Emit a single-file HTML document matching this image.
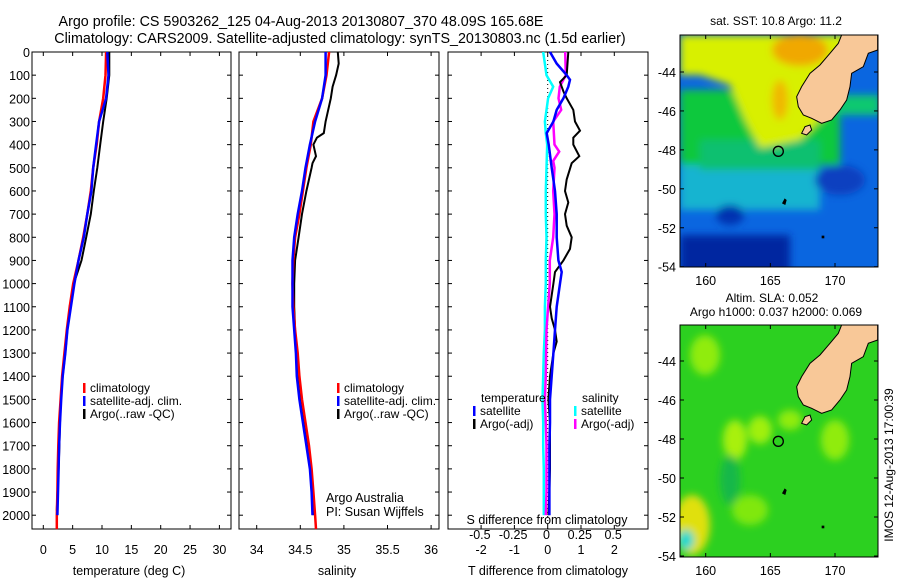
<!DOCTYPE html>
<html><head><meta charset="utf-8"><style>
body{margin:0;background:#fff;}
svg{display:block;font-family:"Liberation Sans",sans-serif;}
</style></head><body>
<svg id="c" width="900" height="580" viewBox="0 0 900 580" xmlns="http://www.w3.org/2000/svg">
<defs>
<clipPath id="m1"><rect x="680" y="35" width="198" height="232"/></clipPath>
<clipPath id="m2"><rect x="680" y="325" width="198" height="232"/></clipPath>
<filter id="bl"><feGaussianBlur stdDeviation="4"/></filter>
</defs>
<text x="301" y="26" font-size="14.3" text-anchor="middle">Argo profile: CS 5903262_125 04-Aug-2013 20130807_370 48.09S 165.68E</text>
<text x="340" y="43" font-size="14.3" text-anchor="middle">Climatology: CARS2009. Satellite-adjusted climatology: synTS_20130803.nc (1.5d earlier)</text>

<g>
<text x="776" y="25" font-size="12" text-anchor="middle">sat. SST: 10.8 Argo: 11.2</text>
<g clip-path="url(#m1)">
<rect x="680" y="35" width="198" height="232" fill="#0a66e0"/>
<g filter="url(#bl)">
<rect x="680" y="150" width="140" height="60" fill="#18b4d0"/>
<rect x="680" y="90" width="160" height="75" fill="#08c83c"/>
<rect x="700" y="140" width="120" height="30" fill="#10c070"/>
<polygon points="680,35 860,35 830,110 800,140 760,148 745,120 730,85 700,75 680,75" fill="#d8f000"/>
<ellipse cx="800" cy="50" rx="28" ry="16" fill="#f0a800"/>
<ellipse cx="780" cy="100" rx="8" ry="20" fill="#f0b800"/>
<rect x="680" y="235" width="110" height="40" fill="#0028a0"/>
<ellipse cx="730" cy="215" rx="14" ry="10" fill="#0030b0"/>
<ellipse cx="840" cy="180" rx="25" ry="15" fill="#0840c0"/>
<rect x="820" y="95" width="60" height="20" fill="#10c870"/>
</g>
</g>
<g transform="translate(650,0) scale(0.3333)">
<polygon points="575,105 683,105 683,150 655,160 640,200 605,220 600,260 590,300 570,330 545,360 515,370 485,355 460,345 445,320 440,290 455,260 480,220 510,195 540,160 565,130" fill="#f8c898" stroke="#000" stroke-width="3"/>
<polygon points="455,400 465,380 480,375 485,390 470,405" fill="#f8c898" stroke="#000" stroke-width="3"/>
<polygon points="396,610 404,595 410,600 406,615" fill="#000"/>
<rect x="515" y="707" width="8" height="8" fill="#000"/>
<circle cx="385" cy="454" r="15" fill="none" stroke="#000" stroke-width="4"/>
</g>
<rect x="680" y="35" width="198" height="232" fill="none" stroke="#000"/>
</g>

<g>
<text x="772" y="302" font-size="12" text-anchor="middle">Altim. SLA: 0.052</text>
<text x="776" y="316" font-size="12" text-anchor="middle">Argo h1000: 0.037 h2000: 0.069</text>
<g clip-path="url(#m2)">
<rect x="680" y="325" width="198" height="232" fill="#2cd020"/>
<g filter="url(#bl)">
<ellipse cx="705" cy="355" rx="15" ry="20" fill="#90ec10"/>
<ellipse cx="735" cy="440" rx="12" ry="20" fill="#a8f010"/>
<ellipse cx="760" cy="430" rx="12" ry="14" fill="#a0f010"/>
<ellipse cx="835" cy="440" rx="14" ry="20" fill="#90ec10"/>
<ellipse cx="790" cy="420" rx="12" ry="10" fill="#90ec10"/>
<ellipse cx="750" cy="510" rx="18" ry="15" fill="#80e810"/>
<ellipse cx="730" cy="480" rx="10" ry="25" fill="#18b848"/>
<ellipse cx="692" cy="525" rx="18" ry="30" fill="#e0e010"/>
<ellipse cx="686" cy="540" rx="8" ry="10" fill="#10d8d0"/>
</g>
</g>
<g transform="translate(650,290) scale(0.3333)">
<polygon points="575,105 683,105 683,150 655,160 640,200 605,220 600,260 590,300 570,330 545,360 515,370 485,355 460,345 445,320 440,290 455,260 480,220 510,195 540,160 565,130" fill="#f8c898" stroke="#000" stroke-width="3"/>
<polygon points="455,400 465,380 480,375 485,390 470,405" fill="#f8c898" stroke="#000" stroke-width="3"/>
<polygon points="396,610 404,595 410,600 406,615" fill="#000"/>
<rect x="515" y="707" width="8" height="8" fill="#000"/>
<circle cx="385" cy="454" r="15" fill="none" stroke="#000" stroke-width="4"/>
</g>
<rect x="680" y="325" width="198" height="232" fill="none" stroke="#000"/>
</g>
<text transform="translate(893,465) rotate(-90)" font-size="12" text-anchor="middle">IMOS 12-Aug-2013 17:00:39</text>

<g id="plots"></g>
</svg>
<script>
// ---- data ----
const depthsT = [0,100,200,300,400,500,600,700,800,900,1000,1100,1200,1300,1400,1500,1600,1700,1800,1900,2000,2060];
const tempClim = [10.7,10.6,10.2,9.5,9.1,8.5,8.1,7.5,6.8,6.0,5.1,4.5,4.0,3.6,3.2,2.95,2.7,2.55,2.45,2.4,2.3,2.3];
const depthsTs = [0,100,200,300,400,500,600,700,800,900,1000,1100,1200,1300,1400,1500,1600,1700,1800,1900,2000];
const tempSat = [10.9,11.1,10.7,9.5,9.0,8.5,8.2,7.5,6.9,6.0,5.3,4.7,4.1,3.75,3.3,3.05,2.85,2.7,2.6,2.5,2.4];
const depthsTa = [0,100,200,300,400,500,600,700,800,900,1000,1100,1200,1300,1400,1500,1600,1700,1800,1900,1980];
const tempArgo = [11.25,11.25,10.8,10.2,9.7,9.2,8.6,8.1,7.3,6.5,5.2,4.5,4.1,3.75,3.3,3.0,2.85,2.75,2.6,2.4,2.3];
const depthsS = [0,100,200,300,400,500,600,700,800,900,1000,1100,1200,1300,1400,1500,1600,1700,1800,1900,2000,2060];
const salClim = [34.83,34.8,34.75,34.65,34.62,34.57,34.53,34.49,34.44,34.42,34.41,34.42,34.44,34.47,34.49,34.52,34.56,34.6,34.63,34.65,34.67,34.68];
const depthsSs = [0,100,200,300,400,500,600,700,800,900,1000,1100,1200,1300,1400,1500,1600,1700,1800,1900,2000];
const salSat = [34.79,34.79,34.75,34.67,34.61,34.56,34.52,34.47,34.43,34.41,34.41,34.41,34.43,34.45,34.46,34.49,34.53,34.57,34.61,34.63,34.64];
const depthsSa = [0,50,100,150,200,300,350,370,400,450,480,500,550,600,700,800,900,1000,1100,1200,1300,1400,1500,1600,1700,1800,1900,2000];
const salArgo = [34.93,34.94,34.91,34.87,34.85,34.79,34.77,34.69,34.65,34.68,34.64,34.63,34.6,34.57,34.52,34.48,34.44,34.43,34.43,34.44,34.46,34.47,34.5,34.55,34.58,34.62,34.64,34.65];
const depthsDT = [0,50,100,120,150,200,250,300,350,400,500,600,700,800,900,950,1000,1100,1200,1300,1400,1500,1600,1700,1800,1900,2000];
const dTsat = [0.07,0.27,0.57,0.67,0.62,0.47,0.27,0.17,-0.03,0.03,0.12,0.22,0.27,0.27,0.32,0.42,0.37,0.27,0.22,0.17,0.12,0.07,0.07,0.05,0.05,0.05,0.05];
const depthsDTa = [0,100,130,170,200,250,300,340,370,400,450,480,550,600,650,700,750,800,850,900,950,1000,1100,1150,1200,1250,1300,1400,1500,1600,1700,1800,1900,2000];
const dTargo = [0.62,0.57,0.37,0.47,0.57,0.77,0.82,0.97,0.77,0.77,0.95,0.72,0.57,0.52,0.62,0.52,0.57,0.72,0.67,0.47,0.22,0.17,0.07,0.12,0.22,0.27,0.17,0.07,0.02,0.07,0.07,0.07,0.05,0.02];
const depthsDS = [0,100,150,200,300,350,400,500,600,700,800,900,1000,1100,1200,1300,1400,1500,1600,1700,1800,1900,2000];
const dSsat = [-0.025,0,0.05,0.012,-0.012,-0.005,0.005,0,-0.005,-0.005,0,-0.005,-0.005,-0.012,-0.012,-0.02,-0.025,-0.03,-0.025,-0.025,-0.02,-0.02,-0.02];
const depthsDSa = [0,100,150,200,250,300,400,430,470,500,600,700,800,900,1000,1100,1200,1400,1500,1600,1700,1800,1900,2000];
const dSargo = [0.14,0.145,0.1,0.09,0.11,0.05,0.06,0.095,0.05,0.06,0.05,0.06,0.05,0.025,0.025,0.012,0,-0.005,-0.012,-0.005,0,0,0,-0.005];
const depthTicks = [0,100,200,300,400,500,600,700,800,900,1000,1100,1200,1300,1400,1500,1600,1700,1800,1900,2000];
const tempTicks = [0,5,10,15,20,25,30];
const salTicks = [34,34.5,35,35.5,36];
const salTickLabels = ["34","34.5","35","35.5","36"];
const dTTicks = [-2,-1,0,1,2];
const dSTicks = [-0.5,-0.25,0,0.25,0.5];
const dSTickLabels = ["-0.5","-0.25","0","0.25","0.5"];
const latTicks = [-44,-46,-48,-50,-52,-54];
const lonTicks = [160,165,170];

// ---- scales ----
const Y0=52, Y1=529;
const yD = d => 52 + d*0.2316;
const xT = t => 43.3 + t*5.87;
const xS = s => 256.7 + (s-34)*87.2;
const xDT = v => 547.7 + v*33.3;
const xDS = v => 546.5 + v*133.3;
const lonX = l => 705.7 + (l-160)*12.93;
const latY1 = l => 72 + (-44-l)*19.47;
const latY2 = l => 361 + (-44-l)*19.5;

const NS="http://www.w3.org/2000/svg";
const root=document.getElementById('plots');
function mk(tag, attrs, parent){const e=document.createElementNS(NS,tag);for(const k in attrs)e.setAttribute(k,attrs[k]);(parent||root).appendChild(e);return e;}
function txt(s,x,y,anchor,size,parent){const e=mk('text',{x:x,y:y,'text-anchor':anchor,'font-size':size},parent);e.textContent=s;return e;}

function panel(name,x0,x1){
  const g=mk('g',{});
  
  
  const r=mk('rect',{x:x0,y:Y0,width:x1-x0,height:Y1-Y0,fill:'none',stroke:'#000'},g);
  
  
  depthTicks.forEach(d=>{
    mk('line',{x1:x0,x2:x0+4,y1:yD(d),y2:yD(d),stroke:'#000'},g);
    mk('line',{x1:x1,x2:x1-4,y1:yD(d),y2:yD(d),stroke:'#000'},g);
  });
  return g;
}
function line(g,xs,ds,xf,color,w,name){
  const p=mk('polyline',{points:xs.map((v,i)=>xf(v).toFixed(1)+','+yD(ds[i]).toFixed(1)).join(' '),fill:'none',stroke:color,'stroke-width':w},g);
  
  
}
function legend(g,x,y,items){
  items.forEach((it,i)=>{
    mk('rect',{x:x,y:y+i*13-9,width:2.5,height:10,fill:it[1]},g);
    const t=txt(it[0],x+7,y+i*13,'start',12,g);
    
    
  });
}

// Panel 1
const g1=panel('temperature-panel',32,231);
depthTicks.forEach(d=>{const t=txt(String(d),30,yD(d)+5,'end',12.5,g1);

});
tempTicks.forEach(v=>{mk('line',{x1:xT(v),x2:xT(v),y1:Y1,y2:Y1-4,stroke:'#000'},g1);mk('line',{x1:xT(v),x2:xT(v),y1:Y0,y2:Y0+4,stroke:'#000'},g1);
const t=txt(String(v),xT(v),554,'middle',12.5,g1);

});
const tt=txt('temperature (deg C)',129,575,'middle',12.5,g1);


line(g1,tempArgo,depthsTa,xT,'#000',2,'temp-argo-line');
line(g1,tempClim,depthsT,xT,'#f00',2.5,'temp-climatology-line');
line(g1,tempSat,depthsTs,xT,'#00f',2.5,'temp-satellite-line');
legend(g1,83,392,[['climatology','#f00'],['satellite-adj. clim.','#00f'],['Argo(..raw -QC)','#000']]);

// Panel 2
const g2=panel('salinity-panel',239,439);
salTicks.forEach((v,i)=>{mk('line',{x1:xS(v),x2:xS(v),y1:Y1,y2:Y1-4,stroke:'#000'},g2);mk('line',{x1:xS(v),x2:xS(v),y1:Y0,y2:Y0+4,stroke:'#000'},g2);
const t=txt(salTickLabels[i],xS(v),554,'middle',12.5,g2);

});
const st=txt('salinity',337,575,'middle',12.5,g2);


line(g2,salArgo,depthsSa,xS,'#000',2,'sal-argo-line');
line(g2,salClim,depthsS,xS,'#f00',2.5,'sal-climatology-line');
line(g2,salSat,depthsSs,xS,'#00f',2.5,'sal-satellite-line');
legend(g2,337,392,[['climatology','#f00'],['satellite-adj. clim.','#00f'],['Argo(..raw -QC)','#000']]);
const a1=txt('Argo Australia',326,502,'start',12.5,g2);


const a2=txt('PI: Susan Wijffels',326,516,'start',12.5,g2);



// Panel 3
const g3=panel('difference-panel',448,648);
mk('line',{x1:xDT(0),x2:xDT(0),y1:Y0,y2:Y1,stroke:'#000','stroke-dasharray':'1,3'},g3);
dTTicks.forEach(v=>{mk('line',{x1:xDT(v),x2:xDT(v),y1:Y1,y2:Y1-4,stroke:'#000'},g3);mk('line',{x1:xDT(v),x2:xDT(v),y1:Y0,y2:Y0+4,stroke:'#000'},g3);
const t=txt(String(v),xDT(v),554,'middle',12.5,g3);

});
dSTicks.forEach((v,i)=>{const t=txt(dSTickLabels[i],xDS(v),539,'middle',12.5,g3);

});
const d1=txt('T difference from climatology',548,575,'middle',12.5,g3);


const d2=txt('S difference from climatology',547,524,'middle',12.5,g3);


line(g3,dSsat,depthsDS,xDS,'#0ff',2.5,'s-diff-satellite-line');
line(g3,dSargo,depthsDSa,xDS,'#f0f',2.5,'s-diff-argo-line');
line(g3,dTargo,depthsDTa,xDT,'#000',2,'t-diff-argo-line');
line(g3,dTsat,depthsDT,xDT,'#00f',2.5,'t-diff-satellite-line');
const lt=txt('temperature',481,402,'start',12,g3);


const ls=txt('salinity',582,402,'start',12,g3);


legend(g3,473,415,[['satellite','#00f'],['Argo(-adj)','#000']]);
legend(g3,574,415,[['satellite','#0ff'],['Argo(-adj)','#f0f']]);

// Map ticks
const mg=mk('g',{});


latTicks.forEach(l=>{
  [latY1(l),latY2(l)].forEach(y=>{
    mk('line',{x1:680,x2:684,y1:y,y2:y,stroke:'#000'},mg);mk('line',{x1:878,x2:874,y1:y,y2:y,stroke:'#000'},mg);
    const t=txt(String(l),676,y+5,'end',12.5,mg);
    
    
  });
});
lonTicks.forEach(l=>{
  [[35,267,285],[325,557,575]].forEach(r=>{
    mk('line',{x1:lonX(l),x2:lonX(l),y1:r[0],y2:r[0]+4,stroke:'#000'},mg);mk('line',{x1:lonX(l),x2:lonX(l),y1:r[1],y2:r[1]-4,stroke:'#000'},mg);
    const t=txt(String(l),lonX(l),r[2],'middle',12.5,mg);
    
    
  });
});
</script>
</body></html>
